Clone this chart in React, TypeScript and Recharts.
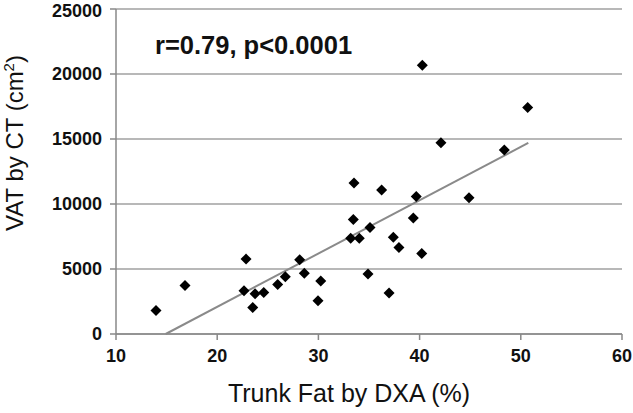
import { ScatterChart, Scatter, XAxis, YAxis, CartesianGrid, Label } from 'recharts';

const trunkFat = [
  13.95, 16.82, 22.85, 22.65, 23.74, 23.51, 24.6, 25.98, 26.73, 28.15, 28.61, 29.96, 30.23,
  33.52, 33.45, 33.19, 34.04, 35.1, 36.25, 34.9, 36.98, 37.4, 37.96, 39.38, 39.67, 40.21,
  44.88, 40.27, 42.11, 48.37, 50.68,
];
const vat = [
  1810, 3730, 5760, 3330, 3100, 2040, 3190, 3810, 4400, 5710, 4680, 2560, 4070,
  11620, 8800, 7370, 7370, 8190, 11080, 4610, 3150, 7450, 6650, 8930, 10570, 6190,
  10490, 20680, 14710, 14150, 17430,
];
const trendX = [14.91, 50.74];
const trendY = [0, 14700];
const xTicks = [10, 20, 30, 40, 50, 60];
const yTicks = [0, 5000, 10000, 15000, 20000, 25000];

const points = trunkFat.map((x, i) => ({ x, y: vat[i] }));
const trend = trendX.map((x, i) => ({ x, y: trendY[i] }));

const FONT = '"Liberation Sans", Arial, sans-serif';

const Diamond = (props: any) => {
  const { cx, cy } = props;
  if (cx == null || cy == null) return null;
  const r = 5.5;
  return (
    <polygon
      points={`${cx},${cy - r} ${cx + r},${cy} ${cx},${cy + r} ${cx - r},${cy}`}
      fill="#000"
    />
  );
};

const NoDot = () => null;

const tickStyle = { fontSize: 18, fontWeight: 700, fill: '#111', fontFamily: FONT };

export default function App() {
  return (
    <div style={{ position: 'absolute', left: 0, top: 0, width: 633, height: 413, background: '#fff' }}>
      <ScatterChart
        width={633}
        height={413}
        margin={{ top: 9, right: 11, bottom: 0, left: 0 }}
        style={{ fontFamily: FONT }}
      >
        <CartesianGrid vertical={false} stroke="#a0a0a0" strokeWidth={1.5} />
        <XAxis
          type="number"
          dataKey="x"
          domain={[10, 60]}
          ticks={xTicks}
          height={79}
          stroke="#888"
          strokeWidth={1.5}
          tickSize={6}
          tickMargin={9}
          tick={tickStyle}
        >
          <Label
            content={() => (
              <text x={349} y={402} textAnchor="middle" fontSize={25} fontFamily={FONT} fill="#111">
                Trunk Fat by DXA (%)
              </text>
            )}
          />
        </XAxis>
        <YAxis
          type="number"
          dataKey="y"
          domain={[0, 25000]}
          ticks={yTicks}
          width={116}
          stroke="#888"
          strokeWidth={1.5}
          tickSize={6}
          tickMargin={8}
          tick={tickStyle}
        >
          <Label
            content={() => (
              <text
                x={0}
                y={0}
                transform="translate(23,143) rotate(-90)"
                textAnchor="middle"
                fontSize={24}
                fontFamily={FONT}
                fill="#111"
              >
                VAT by CT (cm
                <tspan fontSize={15} dy={-9}>2</tspan>
                <tspan dy={9}>)</tspan>
              </text>
            )}
          />
        </YAxis>
        <Scatter
          data={trend}
          line={{ stroke: '#8a8a8a', strokeWidth: 2 }}
          shape={NoDot}
          isAnimationActive={false}
        />
        <Scatter data={points} shape={Diamond} isAnimationActive={false} />
      </ScatterChart>
      <div
        style={{
          position: 'absolute',
          left: 155,
          top: 31,
          fontFamily: FONT,
          fontWeight: 700,
          fontSize: 25.5,
          lineHeight: '28px',
          color: '#111',
          whiteSpace: 'nowrap',
        }}
      >
        r=0.79, p&lt;0.0001
      </div>
    </div>
  );
}
